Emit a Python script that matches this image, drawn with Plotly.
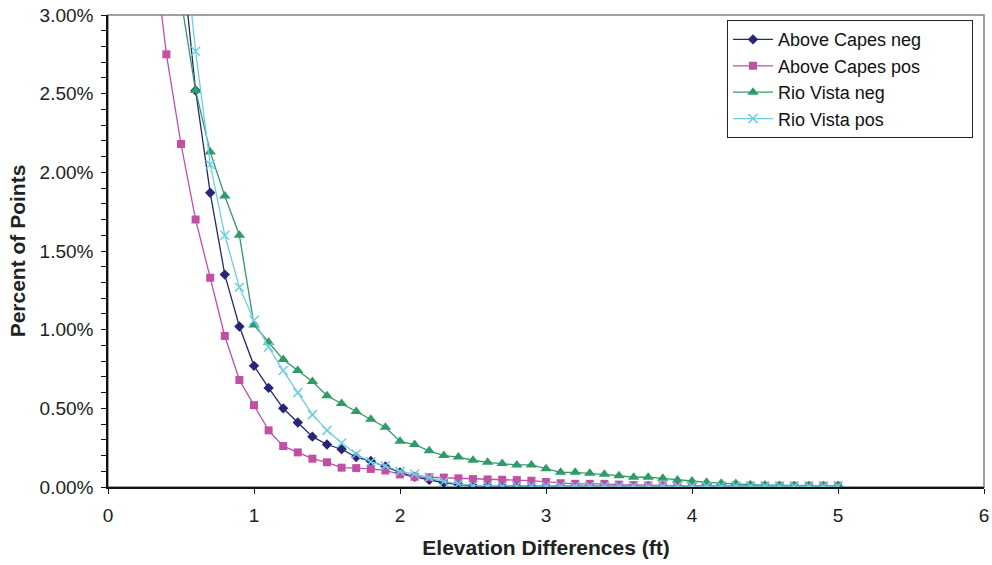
import plotly.graph_objects as go

x_vals = [0.3, 0.4, 0.5, 0.6, 0.7, 0.8, 0.9, 1.0, 1.1, 1.2, 1.3, 1.4, 1.5, 1.6, 1.7, 1.8, 1.9,
          2.0, 2.1, 2.2, 2.3, 2.4, 2.5, 2.6, 2.7, 2.8, 2.9, 3.0, 3.1, 3.2, 3.3, 3.4, 3.5, 3.6,
          3.7, 3.8, 3.9, 4.0, 4.1, 4.2, 4.3, 4.4, 4.5, 4.6, 4.7, 4.8, 4.9, 5.0]

above_capes_neg = [None, None, 3.43, 2.52, 1.87, 1.35, 1.02, 0.77, 0.63, 0.50, 0.41, 0.32, 0.27,
                   0.24, 0.19, 0.165, 0.13, 0.093, 0.065, 0.045, 0.027, 0.017, 0.008, 0.008,
                   0.006, 0.005, 0.005, 0.005, 0.005, 0.005, 0.005, 0.005, 0.005, 0.005, 0.005,
                   0.005, 0.005, 0.005, 0.005, 0.005, 0.005, 0.005, 0.005, 0.005, 0.005, 0.005,
                   0.005, 0.005]

above_capes_pos = [3.53, 2.75, 2.18, 1.70, 1.33, 0.96, 0.68, 0.52, 0.36, 0.26, 0.22, 0.18, 0.157,
                   0.123, 0.12, 0.115, 0.105, 0.08, 0.065, 0.062, 0.06, 0.055, 0.05, 0.048, 0.046,
                   0.044, 0.04, 0.032, 0.024, 0.02, 0.02, 0.02, 0.015, 0.012, 0.01, 0.01, 0.009,
                   0.008, 0.008, 0.008, 0.008, 0.008, 0.008, 0.008, 0.008, 0.008, 0.008, 0.008]

rio_vista_neg = [None, None, 3.10, 2.52, 2.13, 1.85, 1.60, 1.03, 0.92, 0.81, 0.74, 0.67, 0.58,
                 0.53, 0.48, 0.43, 0.38, 0.29, 0.27, 0.23, 0.20, 0.19, 0.17, 0.157, 0.15, 0.14,
                 0.14, 0.116, 0.093, 0.093, 0.087, 0.081, 0.072, 0.062, 0.062, 0.055, 0.045,
                 0.038, 0.03, 0.024, 0.022, 0.015, 0.012, 0.01, 0.008, 0.008, 0.008, 0.008]

rio_vista_pos = [None, None, 3.65, 2.77, 2.05, 1.60, 1.27, 1.06, 0.89, 0.74, 0.60, 0.46, 0.36,
                 0.28, 0.21, 0.16, 0.135, 0.10, 0.083, 0.06, 0.035, 0.02, 0.01, 0.008, 0.006,
                 0.006, 0.006, 0.006, 0.006, 0.006, 0.006, 0.006, 0.006, 0.006, 0.006, 0.006,
                 0.006, 0.006, 0.006, 0.006, 0.006, 0.006, 0.006, 0.006, 0.006, 0.006, 0.006,
                 0.006]

series_names = ["Above Capes neg", "Above Capes pos", "Rio Vista neg", "Rio Vista pos"]

FONT = "Liberation Sans, Arial, sans-serif"
PAD = "\u00a0" * 9  # widens the legend box to the reference's width

fig = go.Figure()
fig.add_trace(go.Scatter(x=x_vals, y=above_capes_neg, name=series_names[0] + PAD, mode="lines+markers",
                         line=dict(color="#262577", width=1.3),
                         marker=dict(symbol="diamond", size=8, color="#262577")))
fig.add_trace(go.Scatter(x=x_vals, y=above_capes_pos, name=series_names[1], mode="lines+markers",
                         line=dict(color="#C24FA6", width=1.3),
                         marker=dict(symbol="square", size=8, color="#C24FA6")))
fig.add_trace(go.Scatter(x=x_vals, y=rio_vista_neg, name=series_names[2], mode="lines+markers",
                         line=dict(color="#2E9C68", width=1.3),
                         marker=dict(symbol="triangle-up", size=10, color="#2E9C68")))
fig.add_trace(go.Scatter(x=x_vals, y=rio_vista_pos, name=series_names[3], mode="lines+markers",
                         line=dict(color="#6CCFE0", width=1.3),
                         marker=dict(symbol="x-thin", size=9, color="#6CCFE0",
                                     line=dict(color="#6CCFE0", width=1.5))))

fig.add_shape(type="rect", xref="paper", yref="paper", x0=0, x1=1, y0=0, y1=1,
              line=dict(color="#808080", width=1.5), layer="below")

fig.update_layout(
    width=992, height=565,
    margin=dict(l=108, r=8, t=15, b=78, autoexpand=False),
    paper_bgcolor="white", plot_bgcolor="white",
    font=dict(family=FONT, size=17, color="#222222"),
    showlegend=True,
    legend=dict(x=0.7066, y=0.989, xanchor="left", yanchor="top",
                bgcolor="white", bordercolor="#222222", borderwidth=1,
                font=dict(family=FONT, size=18, color="#111111"),
                itemwidth=40, tracegroupgap=0),
    xaxis=dict(range=[0, 6], dtick=1, tick0=0, showgrid=False, zeroline=False,
               showline=True, linecolor="#111111", linewidth=1.5,
               ticks="outside", ticklen=5, tickcolor="#111111", automargin=False,
               ticklabelstandoff=5,
               tickfont=dict(family=FONT, size=19, color="#222222"),
               title=dict(text="<b>Elevation Differences (ft)</b>",
                          font=dict(family=FONT, size=21, color="#222222"), standoff=16)),
    yaxis=dict(range=[0, 3], dtick=0.5, tick0=0, showgrid=False, zeroline=False,
               showline=True, linecolor="#111111", linewidth=1.5,
               ticks="outside", ticklen=5, tickcolor="#111111", automargin=False,
               ticklabelstandoff=4,
               tickformat=".2f", ticksuffix="%",
               tickfont=dict(family=FONT, size=19, color="#222222"),
               minor=dict(dtick=0.1, ticks="outside", ticklen=5, tickcolor="#111111", showgrid=False),
               title=dict(text="<b>Percent of Points</b>",
                          font=dict(family=FONT, size=21, color="#222222"), standoff=8)),
)

fig.write_html("out.html")
